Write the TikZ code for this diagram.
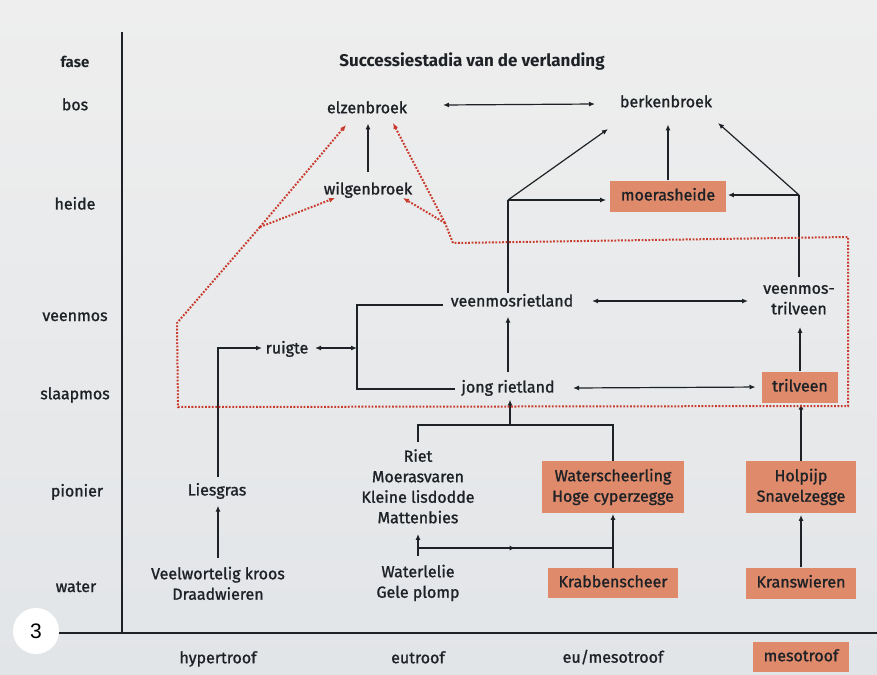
\documentclass[tikz,border=0pt]{standalone}
\usepackage{fontspec}
\setmainfont{Fira Sans}[UprightFeatures={FakeBold=1.2}]
\newfontfamily\numfont{Liberation Sans}
\usetikzlibrary{arrows.meta,calc,decorations.markings}
\definecolor{bgtop}{HTML}{EEEEEE}
\definecolor{bgbot}{HTML}{E2E5E8}
\definecolor{salmon}{HTML}{DE8A6B}
\definecolor{ink}{HTML}{1E2226}
\definecolor{reddot}{HTML}{C83A2C}
\newcommand\st{\rule[-0.22em]{0pt}{0.94em}}
\begin{document}
\begin{tikzpicture}[x=1pt,y=-1pt,
  lbl/.style={font=\fontsize{16}{20.5}\selectfont, text=ink, inner sep=1pt, align=center},
  boldlbl/.style={lbl, font=\fontsize{15}{20.5}\selectfont\bfseries},
  box/.style={lbl, fill=salmon, inner xsep=10.5pt, inner ysep=7.5pt},
  con/.style={draw=ink, line width=1.2pt},
  arr/.style={con, -{Latex[length=6pt,width=5pt]}},
  darr/.style={con, {Latex[length=6pt,width=5pt]}-{Latex[length=6pt,width=5pt]}},
  marr/.style={con, postaction={decorate}, decoration={markings, mark=at position 0.5 with {\arrow{Latex[length=6pt,width=5pt]}}}},
  rdot/.style={draw=reddot, line width=2pt, dash pattern=on 1.8pt off 1.6pt},
  rarr/.style={rdot, -{Latex[length=6pt,width=5pt]}}
]
\shade[top color=bgtop, bottom color=bgbot] (0,0) rectangle (877,674);
\useasboundingbox (0,0) rectangle (877,674);

% axes
\draw[ink, line width=1.2pt] (122,32) -- (122,633);

% phase labels
\node[boldlbl] (fase) at (75,63) {\st fase};
\node[lbl] (bos) at (75,106) {\st bos};
\node[lbl] (heide) at (75,205) {\st heide};
\node[lbl] (veenmos) at (75,317) {\st veenmos};
\node[lbl] (slaapmos) at (75,395) {\st slaapmos};
\node[lbl] (pionier) at (77,492) {\st pionier};
\node[lbl] (water) at (76,588) {\st water};

\node[boldlbl, font=\fontsize{17}{20}\selectfont\bfseries] (title) at (472,61) {\st Successiestadia van de verlanding};

% stages
\node[lbl] (elz) at (367,109) {\st elzenbroek};
\node[lbl] (berk) at (666,103) {\st berkenbroek};
\node[lbl] (wilg) at (368,190) {\st wilgenbroek};
\node[box] (moer) at (668,196) {\st moerasheide};
\node[lbl] (vmr) at (512,302) {\st veenmosrietland};
\node[lbl] (vmt) at (799,300) {\st veenmos-\\\st trilveen};
\node[lbl] (jr) at (508,388) {\st jong rietland};
\node[box] (tril) at (800,387) {\st trilveen};
\node[lbl] (ruigte) at (287,349) {\st ruigte};
\node[lbl] (lies) at (217,491) {\st Liesgras};
\node[lbl] (veel) at (218,585) {\st Veelwortelig kroos\\\st Draadwieren};
\node[lbl] (riet) at (418,488) {\st Riet\\\st Moerasvaren\\\st Kleine lisdodde\\\st Mattenbies};
\node[box] (ws) at (613,487) {\st Waterscheerling\\\st Hoge cyperzegge};
\node[lbl] (wl) at (418,583) {\st Waterlelie\\\st Gele plomp};
\node[box] (krab) at (613,583) {\st Krabbenscheer};
\node[box] (holp) at (801,487) {\st Holpijp\\\st Snavelzegge};
\node[box] (kran) at (801,583) {\st Kranswieren};

% trophic labels
\node[lbl] (hyper) at (218,659) {\st hypertroof};
\node[lbl] (eutr) at (418,659) {\st eutroof};
\node[lbl] (eumeso) at (613,658) {\st eu/mesotroof};
\node[box] (meso) at (801,657) {\st mesotroof};

% number badge and bottom axis
\node[circle, fill=white, minimum size=46pt, inner sep=0pt, font=\numfont\fontsize{21}{21}\selectfont] (num) at (36,631) {3};
\draw[ink, line width=1.2pt] (num.east |- 0,633) -- (877,633);

% junctions
\coordinate (A) at (508,200);
\coordinate (B) at (799,195);
\coordinate (K) at (357,348);
\coordinate (J) at (510,425);

% connectors: top
\draw[darr] ($(elz)+(76,-4)$) -- ($(berk)+(-71,1)$);
\draw[arr, shorten <=8.5pt, shorten >=5.5pt] (wilg.north) -- (wilg.north |- elz.south);
\draw[arr, shorten >=12.5pt] (moer.north) -- (moer.north |- berk.south);
\draw[arr] (A) -- ($(berk)+(-58,26)$);
\draw[arr, shorten >=4pt] (A) -- (A -| moer.west);
\draw[con] (A) -- (A |- vmr.north);
\draw[arr] (B) -- ($(berk)+(52,20)$);
\draw[arr, shorten >=2pt] (B) -- (B -| moer.east);
\draw[con, shorten >=4pt] (B) -- (B |- vmt.north);

% middle
\draw[darr] ($(vmr)+(80,-1)$) -- ($(vmt)+(-51,1)$);
\draw[darr, shorten >=6pt] ($(jr)+(65,0)$) -- (tril.west);
\draw[arr, shorten >=8pt] (tril.north) -- (tril.north |- vmt.south);
\draw[arr, shorten <=6.5pt, shorten >=5.5pt] (jr.north) -- (jr.north |- vmr.south);
\draw[con] ($(vmr)+(-69,3)$) -| (K) |- ($(jr)+(-53,1)$);
\draw[darr] ($(ruigte)+(28,-1)$) -- (K);
\draw[arr] ($(lies)+(1,-14)$) |- ($(ruigte)+(-25,-1)$);
\draw[arr, shorten <=8pt, shorten >=5.5pt] (veel.north) -- (veel.north |- lies.south);

% lower
\draw[con] ($(riet.north)+(0,-6)$) |- (J) -| (ws.north);
\draw[arr, shorten >=2.5pt] (J) -- (J |- jr.south);
\draw[arr, shorten <=8pt, shorten >=6pt] (wl.north) -- (wl.north |- riet.south);
\coordinate (L) at ($(wl)+(0,-35)$);
\draw[marr] (L) -- (L -| ws.south);
\draw[arr, shorten >=1pt] (krab.north) -- (krab.north |- ws.south);
\draw[arr, shorten >=2pt] (kran.north) -- (kran.north |- holp.south);
\draw[arr, shorten >=1pt] (holp.north) -- (holp.north |- tril.south);

% red dotted boundary
\coordinate (LJ) at (260,227);
\coordinate (RJ) at (445,223);
\draw[rdot] (LJ) -- (177,323) -- (178,407) -- (848,406) -- (848,237) -- (453,243) -- (RJ);
\draw[rarr] (LJ) -- ($(elz)+(-21,16)$);
\draw[rarr] (LJ) -- ($(wilg)+(-33,8)$);
\draw[rarr] (RJ) -- ($(elz)+(26,14)$);
\draw[rarr] (RJ) -- ($(wilg)+(35,8)$);
\end{tikzpicture}
\end{document}
